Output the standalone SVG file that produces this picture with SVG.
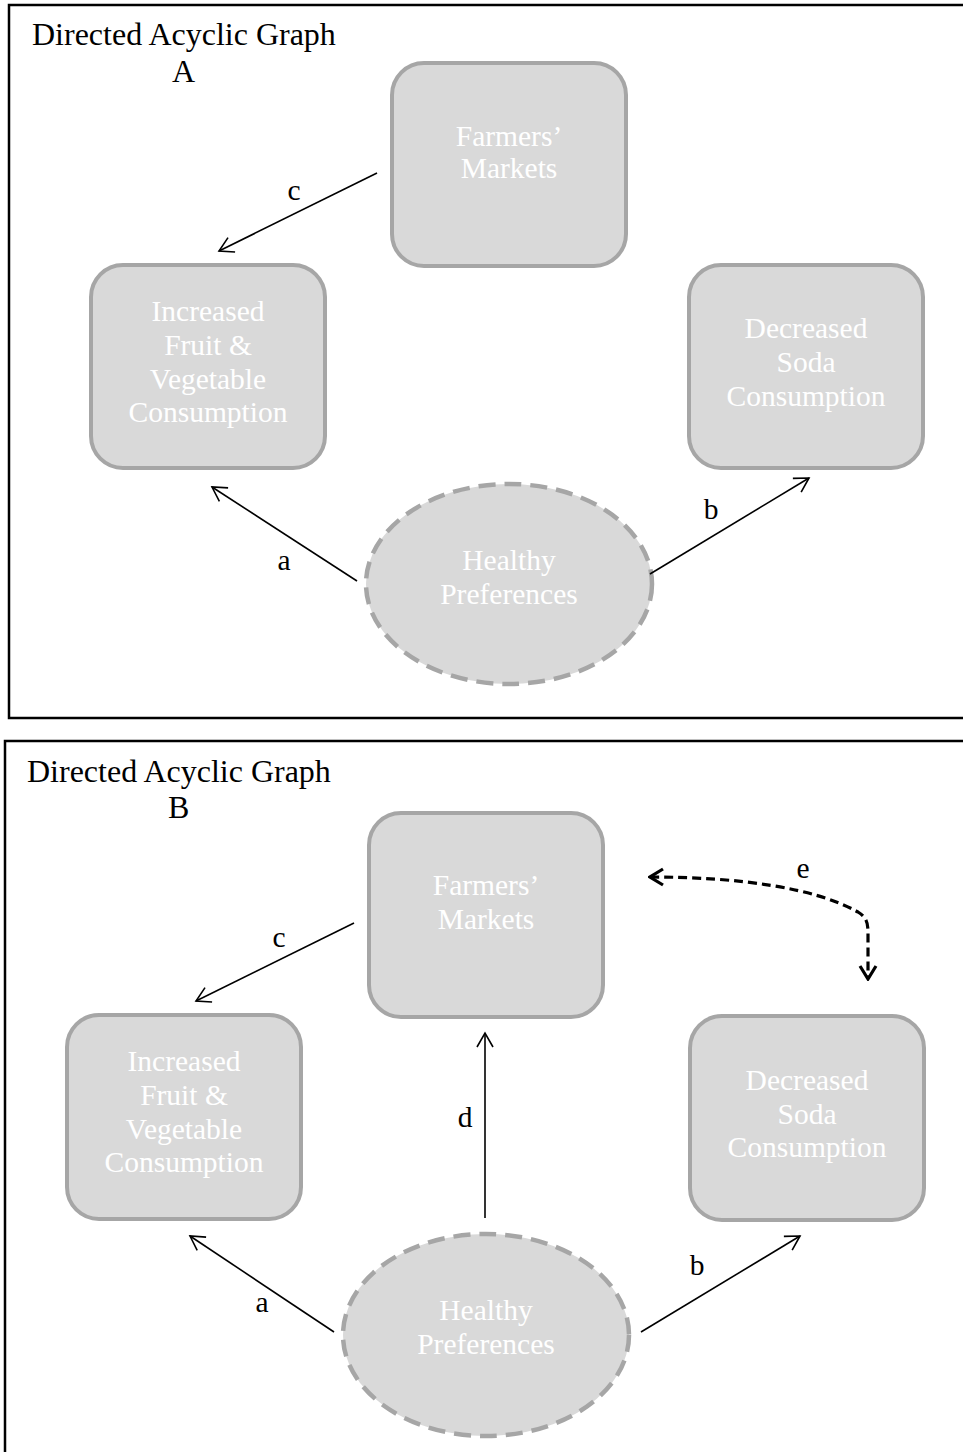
<svg xmlns="http://www.w3.org/2000/svg" width="963" height="1452" viewBox="0 0 963 1452">
<defs>
<style>
.frame{fill:none;stroke:#000;stroke-width:2.5}
.title{font-family:"Liberation Serif","Times New Roman",serif;font-size:32px;fill:#000}
.box{fill:#d9d9d9;stroke:#a6a6a6;stroke-width:4}
.oval{fill:#d9d9d9;stroke:#a6a6a6;stroke-width:4.5;stroke-dasharray:17 9}
.nt{font-family:"Liberation Serif","Times New Roman",serif;font-size:29.5px;fill:#ffffff;text-anchor:middle}
.lbl{font-family:"Liberation Serif","Times New Roman",serif;font-size:29.5px;fill:#000;text-anchor:middle}
.edge{fill:none;stroke:#000;stroke-width:1.6;marker-end:url(#arr)}
.dedge{fill:none;stroke:#000;stroke-width:3.2;stroke-dasharray:9 5;marker-end:url(#arrB);marker-start:url(#arrBs)}
</style>
<marker id="arr" markerUnits="userSpaceOnUse" viewBox="-16 -10 18 20" refX="0" refY="0" markerWidth="18" markerHeight="20" orient="auto">
<path d="M-14,-8 L0,0 L-14,8" fill="none" stroke="#000" stroke-width="1.6"/>
</marker>
<marker id="arrB" markerUnits="userSpaceOnUse" viewBox="-16 -10 18 20" refX="0" refY="0" markerWidth="18" markerHeight="20" orient="auto">
<path d="M-13,-8 L0,0 L-13,8" fill="none" stroke="#000" stroke-width="3.2"/>
</marker>
<marker id="arrBs" markerUnits="userSpaceOnUse" viewBox="-2 -10 18 20" refX="0" refY="0" markerWidth="18" markerHeight="20" orient="auto">
<path d="M13,-8 L0,0 L13,8" fill="none" stroke="#000" stroke-width="3.2"/>
</marker>
</defs>

<g id="panelA">
<rect class="frame" x="9" y="5" width="980" height="713"/>
<text class="title" x="32" y="45">Directed Acyclic Graph</text>
<text class="title" x="172" y="82">A</text>
</g>

<g id="panelB">
<rect class="frame" x="5" y="741" width="990" height="760"/>
<text class="title" x="27" y="782">Directed Acyclic Graph</text>
<text class="title" x="168" y="818">B</text>
</g>

<g id="A-farmers">
<rect class="box" x="392" y="63" width="234" height="203" rx="32"/>
<text class="nt" x="509" y="146">Farmers’</text>
<text class="nt" x="509" y="178">Markets</text>
</g>
<g id="A-fruit">
<rect class="box" x="91" y="265" width="234" height="203" rx="32"/>
<text class="nt" x="208" y="321">Increased</text>
<text class="nt" x="208" y="355">Fruit &amp;</text>
<text class="nt" x="208" y="389">Vegetable</text>
<text class="nt" x="208" y="422">Consumption</text>
</g>
<g id="A-soda">
<rect class="box" x="689" y="265" width="234" height="203" rx="32"/>
<text class="nt" x="806" y="338">Decreased</text>
<text class="nt" x="806" y="372">Soda</text>
<text class="nt" x="806" y="406">Consumption</text>
</g>
<g id="A-healthy">
<ellipse class="oval" cx="509" cy="584" rx="143" ry="100"/>
<text class="nt" x="509" y="570">Healthy</text>
<text class="nt" x="509" y="604">Preferences</text>
</g>

<g id="B-farmers">
<rect class="box" x="369" y="813" width="234" height="204" rx="32"/>
<text class="nt" x="486" y="895">Farmers’</text>
<text class="nt" x="486" y="929">Markets</text>
</g>
<g id="B-fruit">
<rect class="box" x="67" y="1015" width="234" height="204" rx="32"/>
<text class="nt" x="184" y="1071">Increased</text>
<text class="nt" x="184" y="1105">Fruit &amp;</text>
<text class="nt" x="184" y="1139">Vegetable</text>
<text class="nt" x="184" y="1172">Consumption</text>
</g>
<g id="B-soda">
<rect class="box" x="690" y="1016" width="234" height="204" rx="32"/>
<text class="nt" x="807" y="1090">Decreased</text>
<text class="nt" x="807" y="1124">Soda</text>
<text class="nt" x="807" y="1157">Consumption</text>
</g>
<g id="B-healthy">
<ellipse class="oval" cx="486" cy="1335" rx="143" ry="101"/>
<text class="nt" x="486" y="1320">Healthy</text>
<text class="nt" x="486" y="1354">Preferences</text>
</g>

<g id="connectors">
<line class="edge" x1="377" y1="173" x2="219" y2="251"/>
<line class="edge" x1="357" y1="581" x2="212" y2="487"/>
<line class="edge" x1="650" y1="574" x2="809" y2="478"/>
<line class="edge" x1="354" y1="923" x2="196" y2="1001"/>
<line class="edge" x1="485" y1="1218" x2="485" y2="1033"/>
<line class="edge" x1="334" y1="1332" x2="190" y2="1236"/>
<line class="edge" x1="641" y1="1332" x2="800" y2="1236"/>
<path class="dedge" d="M650,877 C740,877 815,888 858,912 C868,918 868,925 868,935 L868,979"/>
<text class="lbl" x="294" y="200">c</text>
<text class="lbl" x="284" y="570">a</text>
<text class="lbl" x="711" y="519">b</text>
<text class="lbl" x="279" y="947">c</text>
<text class="lbl" x="465" y="1127">d</text>
<text class="lbl" x="262" y="1312">a</text>
<text class="lbl" x="697" y="1275">b</text>
<text class="lbl" x="803" y="878">e</text>
</g>
</svg>
